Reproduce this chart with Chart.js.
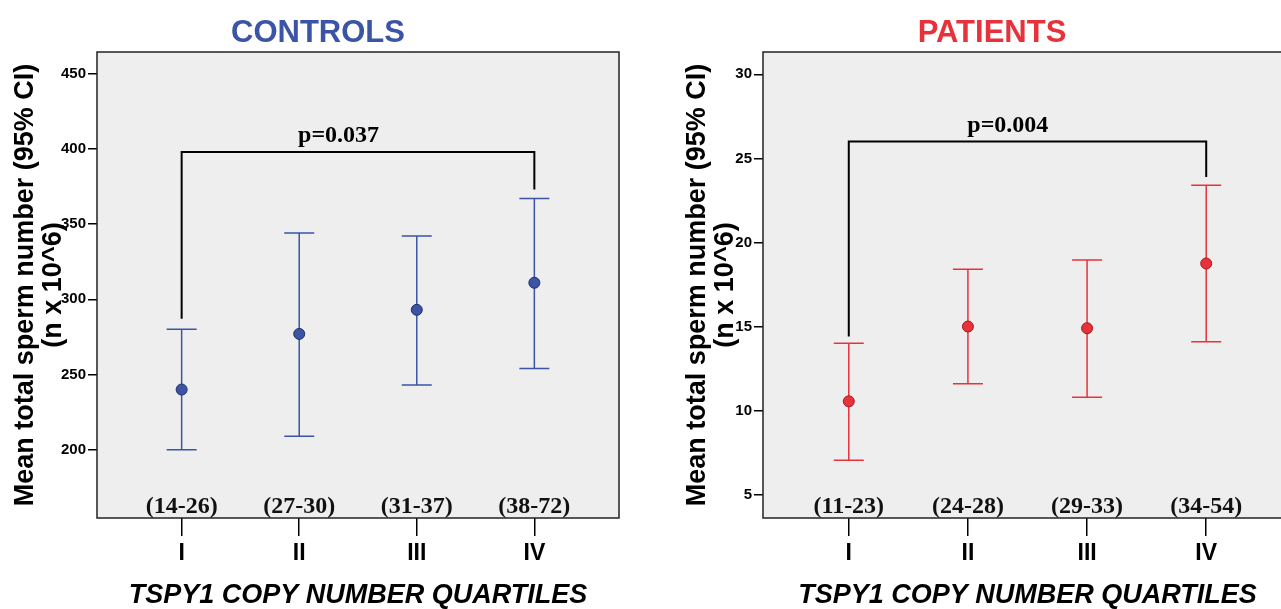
<!DOCTYPE html>
<html>
<head>
<meta charset="utf-8">
<script src="https://cdn.jsdelivr.net/npm/chart.js@4.4.1/dist/chart.umd.min.js"></script>
<style>
  html, body { margin: 0; padding: 0; background: #fff; overflow: hidden; width: 1281px; height: 609px; }
  #controls { position: absolute; left: 0; top: 0; }
  #patients { position: absolute; left: 660px; top: 0; }
</style>
</head>
<body>
<canvas id="controls" width="640" height="609"></canvas>
<canvas id="patients" width="640" height="609"></canvas>
<script>
const quartiles = ['I', 'II', 'III', 'IV'];
const yTitle = ['Mean total sperm number (95% CI)', '(n x 10^6)'];
const xTitle = 'TSPY1 COPY NUMBER QUARTILES';

// controls
const controlRanges = ['(14-26)', '(27-30)', '(31-37)', '(38-72)'];
const controlMeans = [240, 277, 293, 311];
const controlLower = [200, 209, 243, 254];
const controlUpper = [280, 344, 342, 367];
const controlTicks = [200, 250, 300, 350, 400, 450];
const controlAxis = [154.6, 464.4];
const controlBracket = [287, 398, 373]; // left end, top, right end
const controlP = 'p=0.037';

// patients
const patientRanges = ['(11-23)', '(24-28)', '(29-33)', '(34-54)'];
const patientMeans = [10.55, 15.0, 14.9, 18.75];
const patientLower = [7.05, 11.6, 10.8, 14.1];
const patientUpper = [14.0, 18.4, 18.95, 23.4];
const patientTicks = [5, 10, 15, 20, 25, 30];
const patientAxis = [3.61, 31.33];
const patientBracket = [14.4, 26.0, 23.9];
const patientP = 'p=0.004';

const SANS = '"Liberation Sans", Arial, sans-serif';
const SERIF = '"Liberation Serif", "Times New Roman", serif';

// grey panel, error bars, box, title, range labels, p-value bracket
function decorations(o) {
  return {
    id: 'decor',
    beforeDraw(chart) {
      const {ctx, chartArea: a} = chart;
      ctx.save();
      ctx.fillStyle = '#eeeeee';
      ctx.fillRect(a.left, a.top, a.right - a.left, a.bottom - a.top);
      ctx.restore();
    },
    beforeDatasetsDraw(chart) {
      const {ctx, scales: {x, y}} = chart;
      const ds = chart.data.datasets[0];
      ctx.save();
      ctx.strokeStyle = o.color;
      ctx.lineWidth = 1.5;
      ds.lower.forEach((lo, i) => {
        const px = x.getPixelForValue(i + 1);
        const p1 = y.getPixelForValue(lo);
        const p2 = y.getPixelForValue(ds.upper[i]);
        ctx.beginPath();
        ctx.moveTo(px, p1); ctx.lineTo(px, p2);
        ctx.moveTo(px - 15, p1); ctx.lineTo(px + 15, p1);
        ctx.moveTo(px - 15, p2); ctx.lineTo(px + 15, p2);
        ctx.stroke();
      });
      ctx.restore();
    },
    afterDraw(chart) {
      const {ctx, chartArea: a, scales: {x, y}} = chart;
      ctx.save();
      ctx.strokeStyle = '#222';
      ctx.lineWidth = 1.5;
      ctx.strokeRect(a.left, a.top, a.right - a.left, a.bottom - a.top);

      ctx.fillStyle = o.color;
      ctx.font = 'bold 31px ' + SANS;
      ctx.textAlign = 'center';
      ctx.textBaseline = 'middle';
      ctx.fillText(o.title, o.titleX, 33);

      ctx.fillStyle = '#111';
      ctx.font = 'bold 24px ' + SERIF;
      ctx.textBaseline = 'alphabetic';
      o.ranges.forEach((t, i) => ctx.fillText(t, x.getPixelForValue(i + 1), a.bottom - 5));

      const [lEnd, top, rEnd] = o.bracket;
      const x1 = x.getPixelForValue(1), x2 = x.getPixelForValue(4);
      const yt = y.getPixelForValue(top);
      ctx.strokeStyle = '#000';
      ctx.lineWidth = 2;
      ctx.beginPath();
      ctx.moveTo(x1, y.getPixelForValue(lEnd));
      ctx.lineTo(x1, yt);
      ctx.lineTo(x2, yt);
      ctx.lineTo(x2, y.getPixelForValue(rEnd));
      ctx.stroke();
      ctx.fillStyle = '#000';
      ctx.fillText(o.p, x1 + 0.445 * (x2 - x1), yt - 10);
      ctx.restore();
    }
  };
}

function makeChart(id, o) {
  return new Chart(document.getElementById(id).getContext('2d'), {
    type: 'scatter',
    data: {
      datasets: [{
        data: o.means.map((m, i) => ({x: i + 1, y: m})),
        lower: o.lower,
        upper: o.upper,
        pointRadius: 5.5,
        pointBackgroundColor: o.color,
        pointBorderColor: o.dark,
        pointBorderWidth: 1
      }]
    },
    options: {
      responsive: false,
      animation: false,
      devicePixelRatio: 1,
      layout: { padding: { top: 52, left: o.padLeft, right: o.padRight, bottom: 0 } },
      plugins: { legend: { display: false }, tooltip: { enabled: false } },
      scales: {
        x: {
          type: 'linear', min: 0.28, max: 4.72,
          afterBuildTicks: (s) => { s.ticks = quartiles.map((q, i) => ({ value: i + 1 })); },
          afterFit: (s) => { s.height = 91; },
          ticks: {
            callback: (v) => quartiles[v - 1],
            font: { family: SANS, size: 23, weight: 'bold' },
            color: '#000', padding: 4, autoSkip: false, maxRotation: 0
          },
          grid: { drawOnChartArea: false, tickLength: 18, color: '#000', lineWidth: 1.5 },
          border: { display: false },
          title: {
            display: true, text: xTitle, color: '#000',
            font: { family: SANS, size: 27, weight: 'bold', style: 'italic', lineHeight: 1 },
            padding: { top: 0, bottom: 0 }
          }
        },
        y: {
          min: o.axis[0], max: o.axis[1],
          afterBuildTicks: (s) => { s.ticks = o.ticks.map(v => ({ value: v })); },
          afterFit: (s) => { s.width = o.yWidth; },
          ticks: { font: { family: SANS, size: 15, weight: 'bold' }, color: '#000', padding: 2 },
          grid: { drawOnChartArea: false, tickLength: 9, color: '#000', lineWidth: 1.5 },
          border: { display: false },
          title: {
            display: true, text: yTitle, color: '#000',
            font: { family: SANS, size: 27, weight: 'bold', lineHeight: 1.02 },
            padding: { top: 12, bottom: 0 }
          }
        }
      }
    },
    plugins: [decorations(o)]
  });
}

makeChart('controls', {
  means: controlMeans, lower: controlLower, upper: controlUpper,
  ticks: controlTicks, axis: controlAxis, ranges: controlRanges,
  bracket: controlBracket, p: controlP,
  title: 'CONTROLS', titleX: 318, color: '#3b54a6', dark: '#1f2f6b',
  padLeft: 0, yWidth: 97, padRight: 21
});

makeChart('patients', {
  means: patientMeans, lower: patientLower, upper: patientUpper,
  ticks: patientTicks, axis: patientAxis, ranges: patientRanges,
  bracket: patientBracket, p: patientP,
  title: 'PATIENTS', titleX: 332, color: '#e8323b', dark: '#a8161d',
  padLeft: 12, yWidth: 91, padRight: 8
});
</script>
</body>
</html>
